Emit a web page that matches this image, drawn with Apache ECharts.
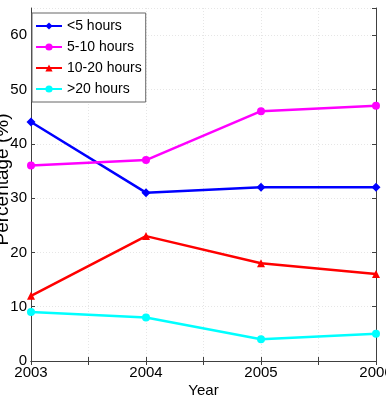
<!DOCTYPE html>
<html><head><meta charset="utf-8">
<script src="https://cdn.jsdelivr.net/npm/echarts@6/dist/echarts.min.js"></script>
<style>html,body{margin:0;padding:0;background:#fff}#c{width:386px;height:398px}</style>
</head><body><div id="c"></div>
<script>
const years = [2003, 2004, 2005, 2006];
const seriesNames = ['<5 hours', '5-10 hours', '10-20 hours', '>20 hours'];
const under5 = [44, 31, 32, 32];
const h5to10 = [36, 37, 46, 47];
const h10to20 = [12, 23, 18, 16];
const over20 = [9, 8, 4, 5];
const yTicks = [0, 10, 20, 30, 40, 50, 60];

const colors = ['#0000FF', '#FF00FF', '#FF0000', '#00FFFF'];
const symbols = ['diamond', 'circle', 'triangle', 'circle'];
const values = [under5, h5to10, h10to20, over20];
const font = '"Liberation Sans", Arial, sans-serif';

const chart = echarts.init(document.getElementById('c'), null, {renderer: 'canvas'});
const gridLine = {show: true, lineStyle: {color: '#e6e6e6', type: [1, 2], width: 1}};
const axisLine = {show: true, lineStyle: {color: '#404040', width: 1}};
chart.setOption({
  animation: false,
  backgroundColor: '#fff',
  grid: {left: 31, right: 10, top: 8, bottom: 37, containLabel: false, outerBoundsMode: 'none'},
  legend: {
    orient: 'vertical', left: 32, top: 13,
    data: seriesNames,
    backgroundColor: '#fff', borderColor: '#666', borderWidth: 1, borderRadius: 0,
    padding: [6, 4, 6, 3],
    itemWidth: 26, itemHeight: 9, itemGap: 7,
    textStyle: {fontFamily: font, fontSize: 14, color: '#000'}
  },
  xAxis: [{
    type: 'value', min: 2003, max: 2006, interval: 0.5,
    name: 'Year', nameLocation: 'middle', nameGap: 22, nameMoveOverlap: false,
    nameTextStyle: {fontFamily: font, fontSize: 15, color: '#000'},
    axisLine: axisLine,
    axisTick: {show: true, inside: true, length: 4, lineStyle: {color: '#404040'}},
    axisLabel: {fontFamily: font, fontSize: 15, color: '#000', margin: 4,
      formatter: v => Number.isInteger(v) && years.includes(v) ? String(v) : ''},
    splitLine: gridLine
  }, {
    type: 'value', position: 'top', min: 2003, max: 2006, interval: 0.5,
    axisLine: axisLine,
    axisTick: {show: true, inside: true, length: 4, lineStyle: {color: '#404040'}},
    axisLabel: {show: false}, splitLine: {show: false}
  }],
  yAxis: [{
    type: 'value', min: 0, max: 65, interval: 10,
    name: 'Percentage (%)', nameLocation: 'middle', nameGap: 19, nameMoveOverlap: false,
    nameTextStyle: {fontFamily: font, fontSize: 19, color: '#000', padding: [0, 0, 0, 10]},
    axisLine: axisLine,
    axisTick: {show: true, inside: true, length: 4, lineStyle: {color: '#404040'}},
    axisLabel: {fontFamily: font, fontSize: 15, color: '#000', margin: 4, showMaxLabel: false,
      formatter: v => yTicks.includes(v) ? String(v) : ''},
    splitLine: gridLine
  }, {
    type: 'value', position: 'right', min: 0, max: 65, interval: 10,
    axisLine: axisLine,
    axisTick: {show: true, inside: true, length: 4, lineStyle: {color: '#404040'}},
    axisLabel: {show: false}, splitLine: {show: false}
  }],
  series: values.map((vals, i) => ({
    name: seriesNames[i], type: 'line',
    data: vals.map((v, j) => [years[j], v]),
    symbol: symbols[i], symbolSize: i === 0 ? 9 : 8,
    showAllSymbol: true,
    itemStyle: {color: colors[i]},
    lineStyle: {color: colors[i], width: 2.5},
    clip: false
  }))
});
</script></body></html>
